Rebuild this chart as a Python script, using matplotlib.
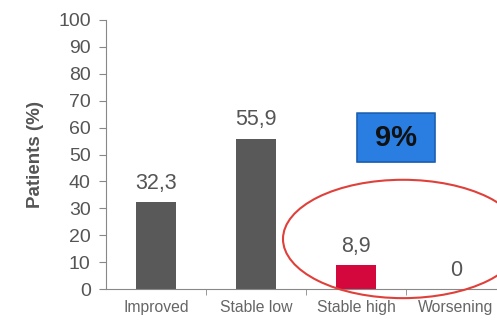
import matplotlib.pyplot as plt
from matplotlib.patches import Ellipse, FancyBboxPatch

plt.rcParams['font.family'] = ['Liberation Sans', 'DejaVu Sans']

categories = ["Improved", "Stable low", "Stable high", "Worsening"]
values = [32.3, 55.9, 8.9, 0]
value_labels = ["32,3", "55,9", "8,9", "0"]
bar_colors = ["#595959", "#595959", "#d4083c", "#595959"]

fig = plt.figure(figsize=(4.97, 3.2), dpi=100)
ax = fig.add_axes([106 / 497, 31 / 320, 400 / 497, 269 / 320])

x = range(len(categories))
ax.bar(x, values, width=0.4, color=bar_colors, zorder=2)

for xi, v, lab in zip(x, values, value_labels):
    ax.annotate(lab, (xi, v), xytext=(0, 6), textcoords="offset points",
                ha="center", va="bottom", fontsize=15.5, color="#555555")

ax.set_xlim(-0.5, 3.5)
ax.set_ylim(0, 100)
ax.set_yticks(range(0, 101, 10))
ax.set_xticks(list(x))
ax.set_xticklabels(categories, fontsize=11.3, color="#666666")
ax.set_xticks([0.5, 1.5, 2.5], minor=True)
ax.tick_params(axis="x", which="major", length=0, pad=8)
ax.tick_params(axis="x", which="minor", length=4, color="#888888", direction="out")
ax.tick_params(axis="y", labelsize=14, labelcolor="#555555", color="#888888", length=5, pad=6)

for s in ["top", "right"]:
    ax.spines[s].set_visible(False)
ax.spines["left"].set_color("#888888")
ax.spines["bottom"].set_color("#888888")

ax.set_ylabel("Patients (%)", fontsize=13.5, fontweight="bold", color="#555555", labelpad=10)

# red ellipse around the last two groups
ell = Ellipse((2.47, 18.6), 2.4, 44.0, fill=False, edgecolor="#e0403a",
              linewidth=1.5, clip_on=False, zorder=3)
ax.add_patch(ell)

# blue "9%" box
box = FancyBboxPatch((2.01, 47.2), 0.78, 18.2, boxstyle="round,pad=0,rounding_size=0.02",
                     facecolor="#2a7de1", edgecolor="#1a5fb0", linewidth=1.2,
                     clip_on=False, zorder=3)
ax.add_patch(box)
ax.text(2.40, 56.3, "9%", ha="center", va="center", fontsize=21,
        fontweight="bold", color="#111111", zorder=4)

fig.savefig("out.png", dpi=100)
